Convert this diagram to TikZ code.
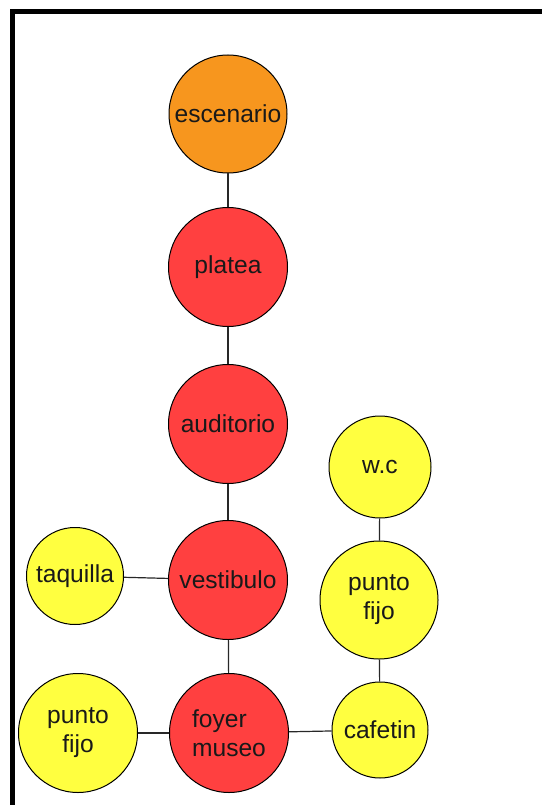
\documentclass[tikz,border=0pt]{standalone}
\usepackage{fontspec}
\setmainfont{Liberation Sans}
\definecolor{orangefill}{RGB}{247,150,30}
\definecolor{redfill}{RGB}{255,64,64}
\definecolor{yellowfill}{RGB}{255,255,64}
\definecolor{linkgray}{RGB}{40,40,40}
\begin{document}
\begin{tikzpicture}[x=1pt,y=-1pt,
  room/.style={circle,draw=black,line width=1pt,inner sep=0pt,align=center,
    font=\fontsize{24.6}{29}\selectfont,text=black!90},
  big/.style={room,minimum size=119pt},
  mid/.style={room,minimum size=102pt},
  small/.style={room,minimum size=97pt},
  link/.style={draw=linkgray,line width=1.2pt}]
\useasboundingbox[fill=white] (0,0) rectangle (542,805);
\draw[line width=5pt,line join=miter] (12.5,805) -- (12.5,11.5) -- (542,11.5);

\node[big,fill=orangefill,minimum size=118pt] (esc) at (228,114) {escenario};
\node[big,fill=redfill] (pla) at (228,267) {platea};
\node[big,fill=redfill] (aud) at (228,424) {auditorio};
\node[big,fill=redfill] (ves) at (228,580) {vestibulo};
\node[big,fill=redfill,align=left] (foy) at (229,733) {foyer\\museo};
\node[small,fill=yellowfill] (taq) at (75,576) {taquilla};
\node[big,fill=yellowfill] (pfl) at (78,733) {punto\\fijo};
\node[small,fill=yellowfill,minimum size=96pt] (caf) at (380,730) {cafetin};
\node[big,fill=yellowfill,minimum size=118pt] (pfr) at (379,600) {punto\\fijo};
\node[mid,fill=yellowfill] (wc) at (380,467) {w.c};

\path[link] (esc) -- (pla);
\path[link] (pla) -- (aud);
\path[link] (aud) -- (ves);
\path[link] (ves) -- (foy);
\path[link] (taq) -- (ves);
\path[link] (pfl) -- (foy);
\path[link] (foy) -- (caf);
\path[link] (caf) -- (pfr);
\path[link] (pfr) -- (wc);
\end{tikzpicture}
\end{document}
